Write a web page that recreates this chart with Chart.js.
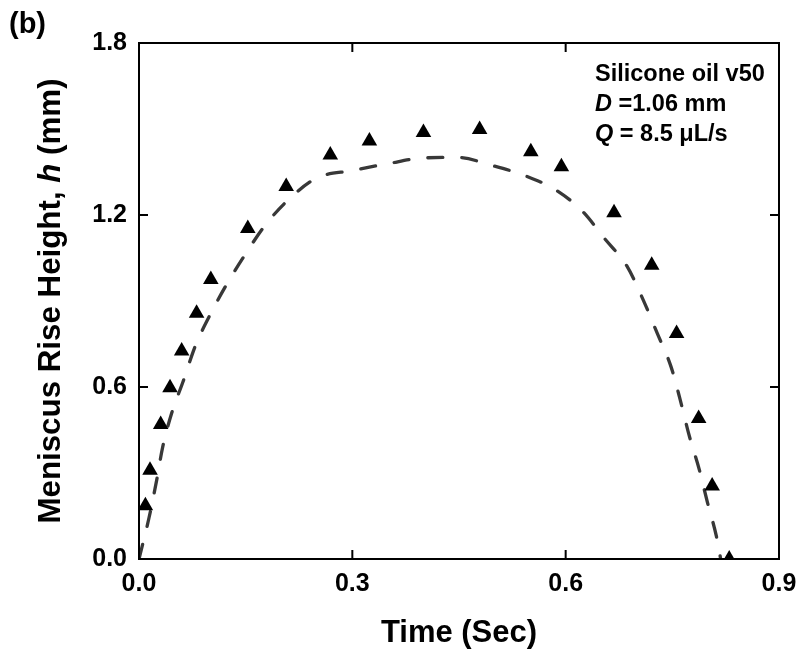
<!DOCTYPE html>
<html>
<head>
<meta charset="utf-8">
<script src="https://cdn.jsdelivr.net/npm/chart.js@4.4.1/dist/chart.umd.min.js"></script>
<style>
  html, body { margin: 0; padding: 0; background: #ffffff; }
  canvas { display: block; }
</style>
</head>
<body>
<canvas id="c" width="800" height="653"></canvas>
<script>
// Measured meniscus rise height (mm) against time (s)
const measuredTime   = [0.009, 0.0155, 0.0305, 0.0436, 0.060, 0.081, 0.101, 0.153, 0.207, 0.269, 0.324,
                        0.400, 0.479, 0.551, 0.594, 0.668, 0.721, 0.756, 0.787, 0.806, 0.830];
const measuredHeight = [0.186, 0.310, 0.469, 0.597, 0.726, 0.857, 0.975, 1.153, 1.299, 1.409, 1.458,
                        1.488, 1.498, 1.421, 1.368, 1.208, 1.025, 0.787, 0.490, 0.255, 0.000];

// Predicted rise height (dashed curve)
const modelTime   = [0.000, 0.014, 0.025, 0.033, 0.046, 0.062, 0.079, 0.100, 0.123, 0.149, 0.177, 0.210,
                     0.250, 0.300, 0.350, 0.400, 0.448, 0.496, 0.543, 0.587, 0.624, 0.654, 0.687, 0.709,
                     0.729, 0.748, 0.761, 0.774, 0.788, 0.799, 0.812, 0.818];
const modelHeight = [0.000, 0.143, 0.277, 0.387, 0.509, 0.619, 0.742, 0.852, 0.957, 1.061, 1.163, 1.253,
                     1.329, 1.355, 1.379, 1.399, 1.401, 1.373, 1.337, 1.286, 1.212, 1.120, 1.018, 0.904,
                     0.786, 0.672, 0.556, 0.428, 0.311, 0.201, 0.079, 0.000];

const xTickLabels = ['0.0', '0.3', '0.6', '0.9'];
const yTickLabels = ['0.0', '0.6', '1.2', '1.8'];

const FONT = '"Liberation Sans", Arial, Helvetica, sans-serif';

// Inset text: each line is a list of [text, italic] runs
const insetLines = [
  [['Silicone oil v50', false]],
  [['D', true], [' =1.06 mm', false]],
  [['Q', true], [' = 8.5 \u03BCL/s', false]]
];

const toPoints = (xs, ys) => xs.map((x, i) => ({ x: x, y: ys[i] }));

function drawRuns(ctx, runs, x, y, size) {
  let cx = x;
  runs.forEach(([txt, italic]) => {
    ctx.font = (italic ? 'italic ' : '') + 'bold ' + size + 'px ' + FONT;
    ctx.fillText(txt, cx, y);
    cx += ctx.measureText(txt).width;
  });
}
function runsWidth(ctx, runs, size) {
  let w = 0;
  runs.forEach(([txt, italic]) => {
    ctx.font = (italic ? 'italic ' : '') + 'bold ' + size + 'px ' + FONT;
    w += ctx.measureText(txt).width;
  });
  return w;
}

// Closed frame with inward tick marks on all four sides
const framePlugin = {
  id: 'frame',
  afterDatasetsDraw(chart) {
    const { ctx, scales: { x, y } } = chart;
    const l = x.getPixelForValue(x.min), r = x.getPixelForValue(x.max);
    const t = y.getPixelForValue(y.max), b = y.getPixelForValue(y.min);
    const len = 9;
    ctx.save();
    ctx.strokeStyle = '#000';
    ctx.lineWidth = 2;
    ctx.beginPath();
    x.ticks.forEach(tk => {
      const px = x.getPixelForValue(tk.value);
      ctx.moveTo(px, b); ctx.lineTo(px, b - len);
      ctx.moveTo(px, t); ctx.lineTo(px, t + len);
    });
    y.ticks.forEach(tk => {
      const py = y.getPixelForValue(tk.value);
      ctx.moveTo(l, py); ctx.lineTo(l + len, py);
      ctx.moveTo(r, py); ctx.lineTo(r - len, py);
    });
    ctx.stroke();
    ctx.strokeRect(l, t, r - l, b - t);
    ctx.restore();
  }
};

// Axis titles, panel letter and inset text
const labelPlugin = {
  id: 'labels',
  afterDraw(chart) {
    const { ctx, chartArea: ca } = chart;
    ctx.save();
    ctx.fillStyle = '#000';
    ctx.textBaseline = 'alphabetic';
    ctx.textAlign = 'left';

    // panel letter
    ctx.font = 'bold 29px ' + FONT;
    ctx.fillText('(b)', 9, 33);

    // x title
    const xRuns = [['Time (Sec)', false]];
    const xs = 31;
    const xw = runsWidth(ctx, xRuns, xs);
    drawRuns(ctx, xRuns, (ca.left + ca.right) / 2 - xw / 2, 642, xs);

    // y title (rotated)
    const yRuns = [['Meniscus Rise Height, ', false], ['h', true], [' (mm)', false]];
    const ys = 31.3;
    const yw = runsWidth(ctx, yRuns, ys);
    ctx.save();
    ctx.translate(60, (ca.top + ca.bottom) / 2);
    ctx.rotate(-Math.PI / 2);
    drawRuns(ctx, yRuns, -yw / 2, 0, ys);
    ctx.restore();

    // inset
    insetLines.forEach((runs, i) => drawRuns(ctx, runs, 595, 81 + i * 30, 23.5));
    ctx.restore();
  }
};

const tickFont = { family: FONT, size: 25, weight: 'bold' };

new Chart(document.getElementById('c'), {
  type: 'scatter',
  data: {
    datasets: [
      {
        label: 'Measured',
        data: toPoints(measuredTime, measuredHeight),
        pointStyle: 'triangle',
        pointRadius: 9,
        pointBackgroundColor: '#000',
        pointBorderColor: '#000',
        pointBorderWidth: 0,
        showLine: false,
        clip: 0
      },
      {
        label: 'Model',
        data: toPoints(modelTime, modelHeight),
        showLine: true,
        pointRadius: 0,
        borderColor: '#383838',
        borderWidth: 3.3,
        borderDash: [15, 19],
        borderCapStyle: 'round',
        cubicInterpolationMode: 'monotone',
        clip: 0
      }
    ]
  },
  options: {
    responsive: false,
    animation: false,
    events: [],
    layout: { padding: { top: 43, right: 21, left: 0, bottom: 0 } },
    plugins: { legend: { display: false }, tooltip: { enabled: false } },
    scales: {
      x: {
        type: 'linear', min: 0, max: 0.9,
        grid: { display: false, drawTicks: false },
        border: { display: false },
        afterBuildTicks(s) { s.ticks = xTickLabels.map(v => ({ value: parseFloat(v) })); },
        afterFit(s) { s.height = 94; s.paddingLeft = 0; s.paddingRight = 0; },
        ticks: { font: tickFont, color: '#000', padding: 10, maxRotation: 0,
                 callback: (v, i) => xTickLabels[i] }
      },
      y: {
        type: 'linear', min: 0, max: 1.8,
        grid: { display: false, drawTicks: false },
        border: { display: false },
        afterBuildTicks(s) { s.ticks = yTickLabels.map(v => ({ value: parseFloat(v) })); },
        afterFit(s) { s.width = 139; s.paddingTop = 0; s.paddingBottom = 0; },
        ticks: { font: tickFont, color: '#000', padding: 12,
                 callback: (v, i) => yTickLabels[i] }
      }
    }
  },
  plugins: [framePlugin, labelPlugin]
});
</script>
</body>
</html>
